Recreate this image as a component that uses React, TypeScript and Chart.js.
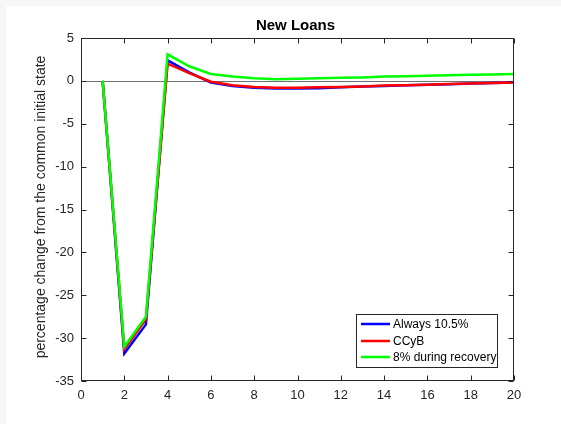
import React, { useEffect, useRef } from "react";
import { Chart, registerables } from "chart.js";

Chart.register(...registerables);

const periods = [1, 2, 3, 4, 5, 6, 7, 8, 9, 10, 11, 12, 13, 14, 15, 16, 17, 18, 19, 20];
const always105 = [0, -31.8, -28.4, 2.4, 1.0, -0.2, -0.6, -0.8, -0.9, -0.9, -0.85, -0.75, -0.65, -0.6, -0.5, -0.45, -0.4, -0.3, -0.25, -0.2];
const ccyb = [0, -31.3, -27.8, 2.0, 0.9, -0.1, -0.5, -0.7, -0.8, -0.8, -0.75, -0.7, -0.65, -0.55, -0.5, -0.45, -0.35, -0.3, -0.25, -0.2];
const recovery8 = [0, -31.0, -27.5, 3.1, 1.7, 0.8, 0.5, 0.3, 0.2, 0.25, 0.3, 0.35, 0.4, 0.5, 0.55, 0.6, 0.65, 0.7, 0.75, 0.8];

const seriesNames = ["Always 10.5%", "CCyB", "8% during recovery"];
const seriesColors = ["#0000ff", "#ff0000", "#00ff00"];
const titleText = "New Loans";
const yTitleText = "percentage change from the common initial state";

const FONT = "'Liberation Sans', Arial, Helvetica, sans-serif";
const AXIS_COLOR = "#262626";

const matlabPlugin = {
  id: "matlabLook",
  beforeDraw(chart: any) {
    const ctx = chart.ctx;
    ctx.save();
    ctx.fillStyle = "#f6f6f6";
    ctx.fillRect(0, 0, chart.width, chart.height);
    ctx.fillStyle = "#ffffff";
    ctx.fillRect(6, 6, chart.width - 6, chart.height - 6);
    ctx.restore();
  },
  beforeDatasetsDraw(chart: any) {
    const ctx = chart.ctx;
    const y = chart.scales.y;
    const a = chart.chartArea;
    const py = Math.round(y.getPixelForValue(0)) + 0.5;
    ctx.save();
    ctx.strokeStyle = "#707070";
    ctx.lineWidth = 1;
    ctx.beginPath();
    ctx.moveTo(a.left, py);
    ctx.lineTo(a.right, py);
    ctx.stroke();
    ctx.restore();
  },
  afterDatasetsDraw(chart: any) {
    const ctx = chart.ctx;
    const a = chart.chartArea;
    const xs = chart.scales.x;
    const ys = chart.scales.y;
    ctx.save();
    // box
    ctx.strokeStyle = AXIS_COLOR;
    ctx.lineWidth = 1;
    const L = Math.round(a.left) + 0.5;
    const R = Math.round(a.right) - 0.5;
    const T = Math.round(a.top) + 0.5;
    const B = Math.round(a.bottom) - 0.5;
    ctx.strokeRect(L, T, R - L, B - T);
    // inward ticks
    const tl = 5;
    ctx.beginPath();
    xs.ticks.forEach((t: any) => {
      const px = Math.round(xs.getPixelForValue(t.value)) + 0.5;
      ctx.moveTo(px, B);
      ctx.lineTo(px, B - tl);
      ctx.moveTo(px, T);
      ctx.lineTo(px, T + tl);
    });
    ys.ticks.forEach((t: any) => {
      const py = Math.round(ys.getPixelForValue(t.value)) + 0.5;
      ctx.moveTo(L, py);
      ctx.lineTo(L + tl, py);
      ctx.moveTo(R, py);
      ctx.lineTo(R - tl, py);
    });
    ctx.stroke();

    // legend
    const bx = 356.5, by = 314.5, bw = 141, bh = 53;
    ctx.fillStyle = "#ffffff";
    ctx.fillRect(bx, by, bw, bh);
    ctx.strokeStyle = AXIS_COLOR;
    ctx.lineWidth = 1;
    ctx.strokeRect(bx, by, bw, bh);
    const rows = [324, 341, 357];
    ctx.font = `12px ${FONT}`;
    ctx.textBaseline = "middle";
    ctx.textAlign = "left";
    seriesNames.forEach((name, i) => {
      ctx.strokeStyle = seriesColors[i];
      ctx.lineWidth = 2.5;
      ctx.beginPath();
      ctx.moveTo(361, rows[i]);
      ctx.lineTo(390, rows[i]);
      ctx.stroke();
      ctx.fillStyle = "#000000";
      ctx.fillText(name, 393, rows[i] + 0.5);
    });

    // title
    ctx.fillStyle = "#000000";
    ctx.font = `bold 15px ${FONT}`;
    ctx.textAlign = "center";
    ctx.textBaseline = "middle";
    ctx.fillText(titleText, (a.left + a.right) / 2 - 2, 26);

    // y title
    ctx.fillStyle = AXIS_COLOR;
    ctx.font = `14px ${FONT}`;
    ctx.translate(41, 207);
    ctx.rotate(-Math.PI / 2);
    ctx.textAlign = "center";
    ctx.textBaseline = "middle";
    ctx.fillText(yTitleText, 0, 0);
    ctx.restore();
  },
};

function mkData(vals: number[]) {
  return periods.map((p, i) => ({ x: p, y: vals[i] }));
}

export default function App() {
  const ref = useRef<HTMLCanvasElement | null>(null);
  useEffect(() => {
    document.body.style.margin = "0";
    if (!ref.current) return;
    const chart = new Chart(ref.current, {
      type: "line",
      data: {
        datasets: [
          { label: seriesNames[0], data: mkData(always105), borderColor: seriesColors[0], borderWidth: 2.5, pointRadius: 0, tension: 0, order: 3, fill: false },
          { label: seriesNames[1], data: mkData(ccyb), borderColor: seriesColors[1], borderWidth: 2.5, pointRadius: 0, tension: 0, order: 2, fill: false },
          { label: seriesNames[2], data: mkData(recovery8), borderColor: seriesColors[2], borderWidth: 2.5, pointRadius: 0, tension: 0, order: 1, fill: false },
        ],
      },
      options: {
        animation: false,
        responsive: false,
        layout: { padding: { left: 0, right: 47, top: 38, bottom: 0 } },
        plugins: {
          legend: { display: false },
          title: { display: false },
          tooltip: { enabled: false },
        },
        scales: {
          x: {
            type: "linear",
            min: 0,
            max: 20,
            grid: { display: false, drawTicks: false },
            border: { display: false },
            ticks: { stepSize: 2, padding: 7, color: AXIS_COLOR, font: { size: 13, family: FONT }, maxRotation: 0 },
            afterFit(scale: any) {
              scale.height = 43;
            },
          },
          y: {
            type: "linear",
            min: -35,
            max: 5,
            grid: { display: false, drawTicks: false },
            border: { display: false },
            ticks: { stepSize: 5, padding: 7, color: AXIS_COLOR, font: { size: 13, family: FONT } },
            afterFit(scale: any) {
              scale.width = 81;
            },
          },
        },
      } as any,
      plugins: [matlabPlugin],
    });
    return () => chart.destroy();
  }, []);
  return <canvas ref={ref} width={561} height={424} style={{ display: "block" }} />;
}
